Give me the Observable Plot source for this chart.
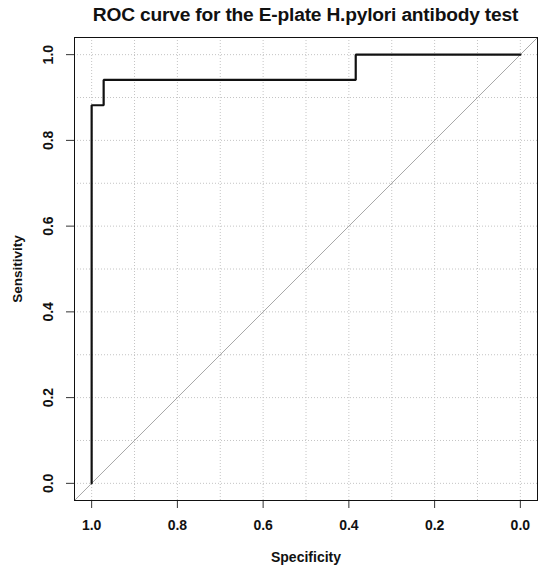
<!DOCTYPE html>
<html>
<head>
<meta charset="utf-8">
<script src="https://cdn.jsdelivr.net/npm/d3@7"></script>
<script src="https://cdn.jsdelivr.net/npm/@observablehq/plot@0.6"></script>
<style>
  html, body { margin: 0; padding: 0; background: #fff; }
  #title { box-sizing: border-box; width: 538px; height: 30px; line-height: 30px; padding-left: 74px; padding-right: 1px;
    text-align: center; font-family: "Liberation Sans", Arial, sans-serif; font-weight: bold; font-size: 19.2px; color: #111; letter-spacing: -0.2px; }
</style>
</head>
<body>
<div id="title">ROC curve for the E-plate H.pylori antibody test</div>
<div id="chart"></div>
<script>
const specificity = [1.0, 1.0, 0.972, 0.972, 0.384, 0.384, 0.0];
const sensitivity = [0.0, 0.882, 0.882, 0.941, 0.941, 1.0, 1.0];
const tickValues = [0, 0.2, 0.4, 0.6, 0.8, 1.0];
const gridValues = [0, 0.1, 0.2, 0.3, 0.4, 0.5, 0.6, 0.7, 0.8, 0.9, 1.0];
const refSpec = [1.04, -0.04];
const refSens = [-0.04, 1.04];

const roc = specificity.map((s, i) => ({spec: s, sens: sensitivity[i]}));
const diag = refSpec.map((s, i) => ({spec: s, sens: refSens[i]}));

const font = "'Liberation Sans', Arial, sans-serif";

const chart = Plot.plot({
  width: 538,
  height: 538,
  marginLeft: 74,
  marginRight: 1,
  marginTop: 7,
  marginBottom: 68,
  style: {fontFamily: font, background: "#fff", color: "#111"},
  x: {domain: [1.04, -0.04]},
  y: {domain: [-0.04, 1.04]},
  marks: [
    Plot.gridX(gridValues, {stroke: "#c4c4c4", strokeOpacity: 1, strokeDasharray: "1,2"}),
    Plot.gridY(gridValues, {stroke: "#c4c4c4", strokeOpacity: 1, strokeDasharray: "1,2"}),
    Plot.line(diag, {x: "spec", y: "sens", stroke: "#a8a8a8", strokeWidth: 1}),
    Plot.line(roc, {x: "spec", y: "sens", stroke: "#111", strokeWidth: 2.2, strokeLinejoin: "miter"}),
    Plot.axisX(tickValues, {tickSize: 8, tickPadding: 12, tickFormat: d3.format(".1f"), fontSize: 14, fontWeight: "bold", label: null, stroke: "#333"}),
    Plot.axisY(tickValues, {tickSize: 8, tickPadding: 14, tickRotate: -90, tickFormat: d3.format(".1f"), fontSize: 14, fontWeight: "bold", label: null, stroke: "#333"}),
    Plot.text(["Specificity"], {frameAnchor: "bottom", textAnchor: "middle", lineAnchor: "middle", dy: 57, fontSize: 14, fontWeight: "bold", fill: "#111"}),
    Plot.text(["Sensitivity"], {frameAnchor: "left", textAnchor: "middle", lineAnchor: "middle", dx: -57, rotate: -90, fontSize: 13.5, fontWeight: "bold", fill: "#111"}),
    Plot.frame({stroke: "#111", strokeWidth: 1})
  ]
});
document.getElementById("chart").appendChild(chart);
</script>
</body>
</html>
